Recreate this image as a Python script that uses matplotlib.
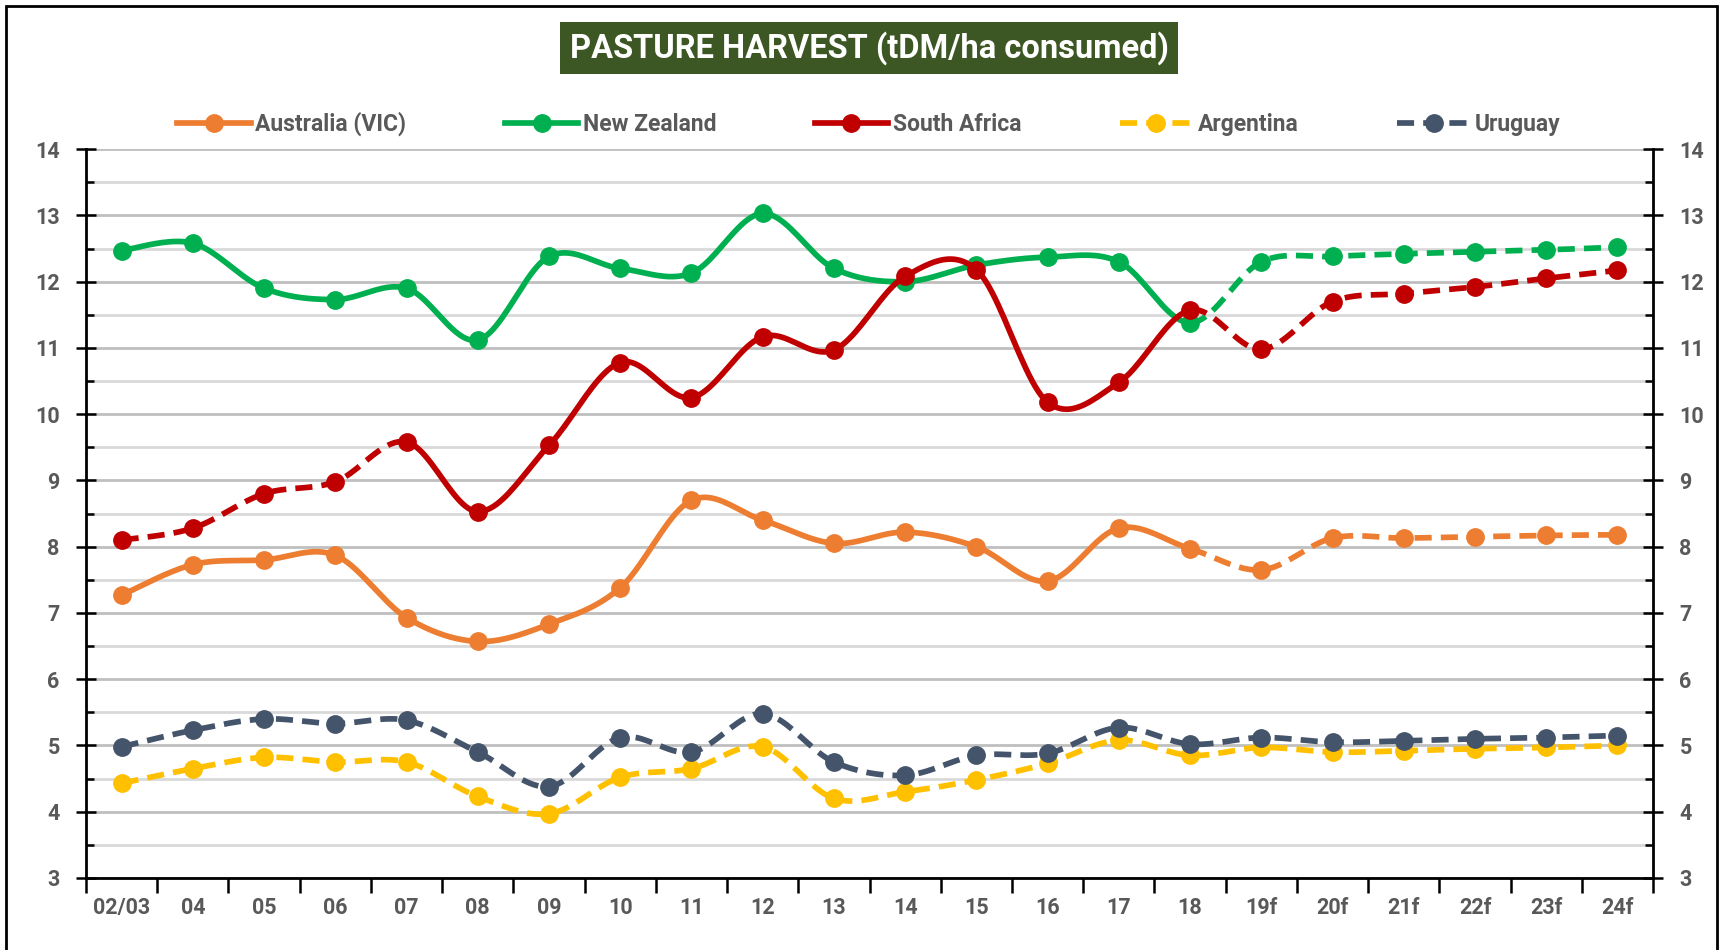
import numpy as np
import matplotlib
matplotlib.use("Agg")
import matplotlib.pyplot as plt
from matplotlib.lines import Line2D
from matplotlib.patches import Rectangle

plt.rcParams['font.family'] = ['Roboto', 'DejaVu Sans']

# categories and series values (tDM/ha consumed)
years = ['02/03', '04', '05', '06', '07', '08', '09', '10', '11', '12', '13',
         '14', '15', '16', '17', '18', '19f', '20f', '21f', '22f', '23f', '24f']
australia = [7.27, 7.73, 7.80, 7.87, 6.93, 6.57, 6.83, 7.38, 8.70, 8.40, 8.05,
             8.22, 8.00, 7.48, 8.28, 7.97, 7.65, 8.13, 8.13, 8.15, 8.17, 8.18]
new_zealand = [12.47, 12.58, 11.90, 11.73, 11.90, 11.12, 12.38, 12.20, 12.13, 13.03, 12.20,
               12.00, 12.25, 12.37, 12.30, 11.38, 12.30, 12.38, 12.42, 12.45, 12.48, 12.52]
south_africa = [8.10, 8.28, 8.80, 8.98, 9.58, 8.53, 9.53, 10.78, 10.25, 11.17, 10.97,
                12.08, 12.18, 10.18, 10.48, 11.57, 10.98, 11.70, 11.82, 11.92, 12.05, 12.17]
argentina = [4.43, 4.65, 4.82, 4.75, 4.75, 4.23, 3.97, 4.52, 4.65, 4.98, 4.20,
             4.30, 4.48, 4.73, 5.08, 4.85, 4.97, 4.90, 4.92, 4.95, 4.97, 5.00]
uruguay = [4.98, 5.23, 5.40, 5.33, 5.38, 4.90, 4.38, 5.12, 4.90, 5.48, 4.75,
           4.55, 4.85, 4.88, 5.27, 5.02, 5.12, 5.05, 5.07, 5.10, 5.12, 5.15]

# (name, values, colour, [(from, to, style), ...])
series = [
    ('Australia (VIC)', australia, '#ED7D31', [(0, 15, '-'), (15, 21, '--')]),
    ('New Zealand', new_zealand, '#00B050', [(0, 15, '-'), (15, 21, '--')]),
    ('South Africa', south_africa, '#C00000', [(0, 4, '--'), (4, 15, '-'), (15, 21, '--')]),
    ('Argentina', argentina, '#FFC000', [(0, 21, '--')]),
    ('Uruguay', uruguay, '#44546A', [(0, 21, '--')]),
]

DASH = (0, (3.0, 1.6))
LW = 4.1
MS = 12.5


# smooth curve through the points (Catmull-Rom style, like Excel smoothed lines)
def smooth_part(xs, ys, i0, i1, n=24):
    xs = np.asarray(xs, float)
    ys = np.asarray(ys, float)
    last = len(xs) - 1
    out_x, out_y = [], []
    t = np.linspace(0, 1, n)
    for i in range(i0, i1):
        a, b = max(i - 1, 0), min(i + 2, last)
        p0 = np.array([xs[i], ys[i]])
        p3 = np.array([xs[i + 1], ys[i + 1]])
        p1 = p0 + (p3 - np.array([xs[a], ys[a]])) / 6
        p2 = p3 - (np.array([xs[b], ys[b]]) - p0) / 6
        pts = (np.outer((1 - t) ** 3, p0) + np.outer(3 * (1 - t) ** 2 * t, p1)
               + np.outer(3 * (1 - t) * t ** 2, p2) + np.outer(t ** 3, p3))
        if i > i0:
            pts = pts[1:]
        out_x.extend(pts[:, 0])
        out_y.extend(pts[:, 1])
    return out_x, out_y


fig = plt.figure(figsize=(17.31, 9.5), dpi=100)
ax = fig.add_axes([0.0497, 0.0758, 0.9053, 0.7672])

x = np.arange(len(years))
z = 3
handles = []
for name, vals, col, parts in series:
    for i0, i1, st in parts:
        sx, sy = smooth_part(x, vals, i0, i1)
        ax.plot(sx, sy, color=col, lw=LW, ls=DASH if st == '--' else '-',
                solid_capstyle='butt', dash_capstyle='butt', zorder=z)
    ax.plot(x, vals, 'o', color=col, ms=MS, zorder=z + 0.5)
    z += 1
    st = parts[-1][2] if name in ('Argentina', 'Uruguay') else '-'
    handles.append(Line2D([], [], color=col, lw=LW, ls=DASH if st == '--' else '-',
                          marker='o', ms=MS, dash_capstyle='butt'))

# axes
ax.set_xlim(-0.5, len(years) - 0.5)
ax.set_ylim(3, 14)
ax.set_xticks(np.arange(-0.5, len(years), 1))
ax.set_xticklabels([])
ax.set_xticks(x, minor=True)
ax.set_xticklabels(years, minor=True)
ax.set_yticks(np.arange(3, 15, 1))
ax.set_yticks(np.arange(3.5, 14, 1), minor=True)

ax.tick_params(axis='x', which='major', direction='out', length=11, width=1.8, color='black')
ax.tick_params(axis='x', which='minor', length=0, pad=14, labelsize=15.5, labelcolor='#595959')
ax.tick_params(axis='y', which='major', direction='inout', length=14, width=1.8,
               left=True, right=True, labelleft=True, labelright=True,
               labelsize=15.5, labelcolor='#595959', pad=12)
ax.tick_params(axis='y', which='minor', direction='in', length=6, width=1.8,
               left=True, right=True)
for lbl in ax.get_xticklabels(minor=True) + ax.get_yticklabels():
    lbl.set_fontweight('bold')

ax.grid(axis='y', which='major', color='#bfbfbf', lw=2, zorder=0)
ax.grid(axis='y', which='minor', color='#d9d9d9', lw=2, zorder=0)
ax.set_axisbelow(True)

ax.spines['top'].set_visible(False)
for s in ('left', 'right', 'bottom'):
    ax.spines[s].set_linewidth(2)
    ax.spines[s].set_color('black')

# legend
fig.legend(handles, [s[0] for s in series], loc='center', bbox_to_anchor=(0.502, 1 - 124 / 950),
           ncol=5, frameon=False, handlelength=3.2, handletextpad=0.2,
           columnspacing=4.3, labelcolor='#595959', prop={'weight': 'bold', 'size': 16.5})

# title box
fig.text(0.502, 1 - 48 / 950, 'PASTURE HARVEST (tDM/ha consumed)', ha='center', va='center',
         fontsize=23.5, fontweight='bold', color='white',
         bbox=dict(boxstyle='square,pad=0.28', facecolor='#3d5724', edgecolor='none'))

# outer border
fig.add_artist(Rectangle((0.0032, -0.02), 0.9888, 1.0142, transform=fig.transFigure,
                         fill=False, edgecolor='black', lw=2))

fig.savefig('out.png', dpi=100)
